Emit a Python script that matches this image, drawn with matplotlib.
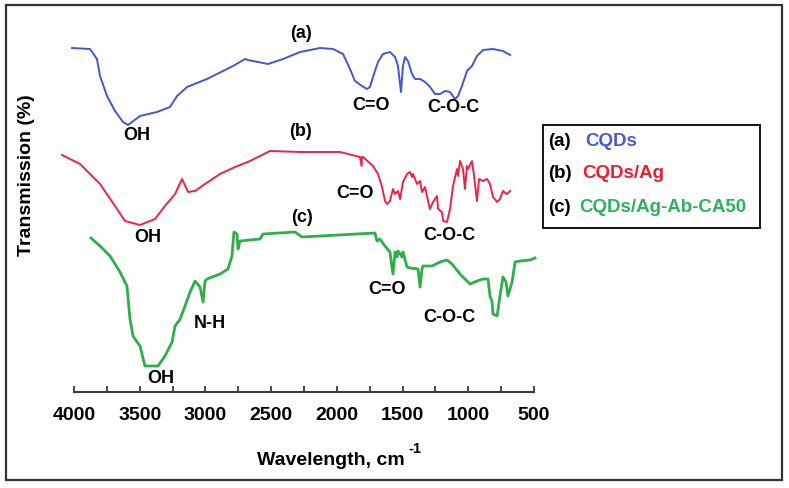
import matplotlib
matplotlib.use("Agg")
import matplotlib.pyplot as plt
from matplotlib.patches import Rectangle
from matplotlib.ticker import MultipleLocator

plt.rcParams['font.family'] = ['Liberation Sans', 'DejaVu Sans']
plt.rcParams['font.weight'] = 'bold'

# (a) CQDs  -- wavenumber (cm-1), transmission (a.u., stacked)
wn_a = [4015, 3878, 3825, 3802, 3749, 3688, 3627, 3589, 3498, 3369, 3270, 3216, 3140,
        2988, 2790, 2699, 2676, 2524, 2409, 2280, 2128, 2029, 1953, 1900, 1862, 1809,
        1771, 1748, 1725, 1687, 1649, 1596, 1557, 1535, 1512, 1497, 1481, 1459, 1428,
        1405, 1367, 1329, 1291, 1253, 1215, 1177, 1139, 1101, 1078, 1048, 1010, 972,
        934, 888, 812, 736, 682]
tr_a = [351, 350, 340, 323, 303, 288, 277, 274, 283, 287, 292, 303, 312,
        320, 333, 340, 339, 335, 340, 347, 351, 350, 345, 330, 318, 313,
        310, 312, 322, 337, 345, 347, 342, 333, 307, 333, 342, 338, 325,
        320, 320, 317, 312, 305, 305, 308, 307, 300, 303, 313, 328, 333,
        343, 349, 350, 348, 344]

# (b) CQDs/Ag
wn_b = [4091, 3954, 3802, 3688, 3612, 3498, 3384, 3308, 3231, 3178, 3132, 3079, 3003,
        2889, 2775, 2661, 2509, 2280, 2052, 1976, 1824, 1812, 1809, 1801, 1725, 1687,
        1656, 1634, 1618, 1596, 1573, 1557, 1535, 1519, 1497, 1466, 1443, 1428, 1420,
        1390, 1367, 1352, 1329, 1306, 1291, 1268, 1238, 1230, 1200, 1192, 1162, 1139,
        1116, 1086, 1078, 1063, 1040, 1025, 1010, 1002, 972, 956, 934, 918, 888, 857,
        835, 812, 781, 759, 736, 706, 682]
tr_b = [244, 235, 215, 193, 178, 174, 180, 193, 205, 220, 207, 208, 215,
        225, 232, 238, 248, 247, 247, 247, 242, 233, 242, 242, 233, 225,
        212, 198, 195, 198, 210, 205, 208, 200, 217, 225, 227, 222, 225,
        215, 218, 207, 212, 198, 190, 197, 203, 190, 187, 178, 177, 190,
        213, 230, 223, 238, 230, 210, 233, 230, 238, 223, 198, 220, 218, 220,
        215, 202, 197, 200, 208, 205, 208]

# (c) CQDs/Ag-Ab-CA50
wn_c = [3871, 3802, 3726, 3650, 3597, 3574, 3551, 3498, 3460, 3361, 3308, 3254, 3231,
        3193, 3155, 3117, 3079, 3041, 3018, 3003, 2988, 2889, 2828, 2798, 2783, 2760,
        2752, 2737, 2585, 2562, 2318, 2265, 1710, 1695, 1672, 1634, 1596, 1573, 1557,
        1542, 1535, 1504, 1497, 1466, 1443, 1382, 1367, 1352, 1344, 1276, 1215, 1162,
        1124, 1063, 987, 934, 888, 850, 835, 819, 812, 781, 759, 736, 713, 698, 667,
        644, 606, 530, 492]
tr_c = [161, 153, 143, 127, 113, 80, 63, 53, 33, 33, 43, 57, 73,
        80, 93, 107, 118, 112, 97, 118, 120, 125, 130, 143, 167, 165,
        150, 158, 160, 165, 167, 162, 166, 158, 160, 153, 147, 125, 147,
        142, 148, 142, 147, 132, 131, 130, 112, 130, 133, 133, 137, 139,
        135, 125, 115, 118, 120, 120, 103, 97, 85, 83, 103, 122, 117, 103, 117,
        137, 138, 139, 141]

peak_labels = [
    ("(a)", 2273, 366), ("OH", 3521, 264), ("C=O", 1740, 295), ("C-O-C", 1116, 292),
    ("(b)", 2273, 268), ("OH", 3437, 162), ("C=O", 1862, 207), ("C-O-C", 1147, 165),
    ("(c)", 2265, 182), ("OH", 3338, 21), ("N-H", 2965, 77), ("C=O", 1618, 110),
    ("C-O-C", 1147, 83),
]

legend_tags = ["(a)", "(b)", "(c)"]
legend_names = ["CQDs", "CQDs/Ag", "CQDs/Ag-Ab-CA50"]

blue = "#4156d8"
red = "#ec2349"
green = "#2fae4a"
legend_colors = ["#4a5ad6", "#e8202f", "#2db35a"]

W, H = 789, 489
fig = plt.figure(figsize=(W / 100, H / 100), dpi=100)
ax = fig.add_axes([74 / W, (H - 393) / H, 460 / W, 373 / H])
ax.set_xlim(4000, 500)
ax.set_ylim(7, 380)

ax.plot(wn_a, tr_a, color=blue, lw=1.4, clip_on=False)
ax.plot(wn_b, tr_b, color=red, lw=1.4, clip_on=False)
ax.plot(wn_c, tr_c, color=green, lw=2.0, clip_on=False)

for txt, x, y in peak_labels:
    ax.text(x, y, txt, ha="center", va="center", fontsize=13, fontweight="bold",
            color="black")

for side in ["left", "right", "top"]:
    ax.spines[side].set_visible(False)
ax.spines["bottom"].set_color("#3a3a3a")
ax.spines["bottom"].set_linewidth(1.5)
ax.set_yticks([])
ax.xaxis.set_major_locator(MultipleLocator(500))
ax.xaxis.set_minor_locator(MultipleLocator(250))
ax.tick_params(axis="x", which="both", direction="in", length=4, width=1.3,
               color="#3a3a3a", pad=10, labelsize=14)
for lab in ax.get_xticklabels():
    lab.set_fontweight("bold")
ax.set_facecolor("none")

fig.text(257 / W, 1 - 461 / H, "Wavelength, cm", ha="left", va="center",
         fontsize=14, fontweight="bold")
fig.text(408 / W, 1 - 449 / H, "-1", ha="left", va="center",
         fontsize=10.5, fontweight="bold")
fig.text(27 / W, 1 - 175 / H, "Transmission (%)", ha="center", va="center",
         rotation=90, fontsize=14, fontweight="bold")

# legend box
fig.patches.append(Rectangle((543 / W, 1 - 229 / H), 217 / W, 103 / H,
                             transform=fig.transFigure, fill=False,
                             edgecolor="black", lw=1.3))
for i, (tag, name, col) in enumerate(zip(legend_tags, legend_names, legend_colors)):
    yy = 1 - (141 + 33 * i) / H
    fig.text(548 / W, yy, tag, ha="left", va="center", fontsize=13.5,
             fontweight="bold", color="black")
    fig.text((585 - 3 * i) / W, yy, name, ha="left", va="center", fontsize=13.5,
             fontweight="bold", color=col)

# outer frame
fig.patches.append(Rectangle((6 / W, 1 - 481 / H), 776 / W, 475 / H,
                             transform=fig.transFigure, fill=False,
                             edgecolor="#333333", lw=1.6))

fig.savefig("out.png", dpi=100)
